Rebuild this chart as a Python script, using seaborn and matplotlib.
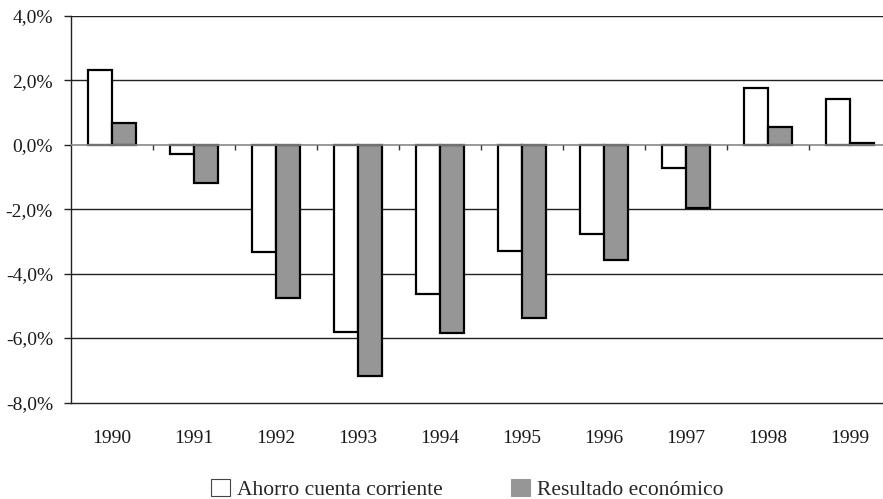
import numpy as np
import pandas as pd
import matplotlib
matplotlib.use("Agg")
import matplotlib.pyplot as plt
from matplotlib.ticker import FuncFormatter
import seaborn as sns

years = ["1990", "1991", "1992", "1993", "1994", "1995", "1996", "1997", "1998", "1999"]
ahorro = [2.32, -0.28, -3.34, -5.82, -4.64, -3.29, -2.77, -0.71, 1.75, 1.41]
resultado = [0.67, -1.19, -4.76, -7.19, -5.83, -5.38, -3.57, -1.98, 0.56, 0.05]
series_names = ["Ahorro cuenta corriente", "Resultado económico"]
colors = ["white", "#969696"]

df = pd.DataFrame({
    "year": years * 2,
    "value": ahorro + resultado,
    "serie": [series_names[0]] * len(years) + [series_names[1]] * len(years),
})

sns.set_theme(style="white")
plt.rcParams["font.family"] = ["Liberation Serif", "DejaVu Serif"]

fig = plt.figure(figsize=(8.83, 4.99), dpi=100)
ax = fig.add_axes([71 / 883, 1 - 402.5 / 499, 820 / 883, (402.5 - 15.7) / 499])

sns.barplot(data=df, x="year", y="value", hue="serie", order=years,
            hue_order=series_names, palette=colors,
            edgecolor="black", linewidth=1.6, width=0.59, ax=ax, zorder=3)

ax.set_ylim(-8, 4)
ax.set_yticks(np.arange(-8, 4.1, 2))
ax.yaxis.set_major_formatter(FuncFormatter(lambda v, p: f"{v:.1f}%".replace(".", ",")))
ax.set_xlim(-0.5, len(years) - 0.5)

# horizontal gridlines
for v in np.arange(-6, 4.1, 2):
    if v == 0:
        continue
    ax.axhline(v, color="#222222", lw=1.0, zorder=1)
ax.axhline(0, color="#888888", lw=1.2, zorder=4)
# small tick marks on the zero line at category boundaries
ax.vlines(np.arange(len(years)) + 0.5, -0.17, 0, color="#333333", lw=1.0, zorder=4)

for s in ["right", "top"]:
    ax.spines[s].set_visible(False)
ax.spines["left"].set_color("#222222")
ax.spines["bottom"].set_color("#222222")
ax.spines["left"].set_linewidth(1.0)
ax.spines["bottom"].set_linewidth(1.0)

ax.tick_params(axis="y", which="major", left=True, length=5, width=1, color="#222222",
               labelsize=14, labelcolor="#1a1a1a", pad=8)
ax.tick_params(axis="x", bottom=False, labelsize=14, labelcolor="#1a1a1a", pad=13.5)
ax.set_xlabel("")
ax.set_ylabel("")

handles, labels = ax.get_legend_handles_labels()
ax.legend_.remove()
handles[0].set_edgecolor("#444444")
handles[0].set_linewidth(0.8)
handles[1].set_edgecolor(colors[1])
handles[1].set_linewidth(0.8)
fig.legend(handles, labels, loc="upper left", bbox_to_anchor=(211 / 883, 1 - 478.5 / 499),
           ncol=2, frameon=False, fontsize=15.5, borderpad=0, borderaxespad=0,
           handlelength=0.88, handleheight=0.88, handletextpad=0.33, columnspacing=3.15)

fig.savefig("out.png", dpi=100)
